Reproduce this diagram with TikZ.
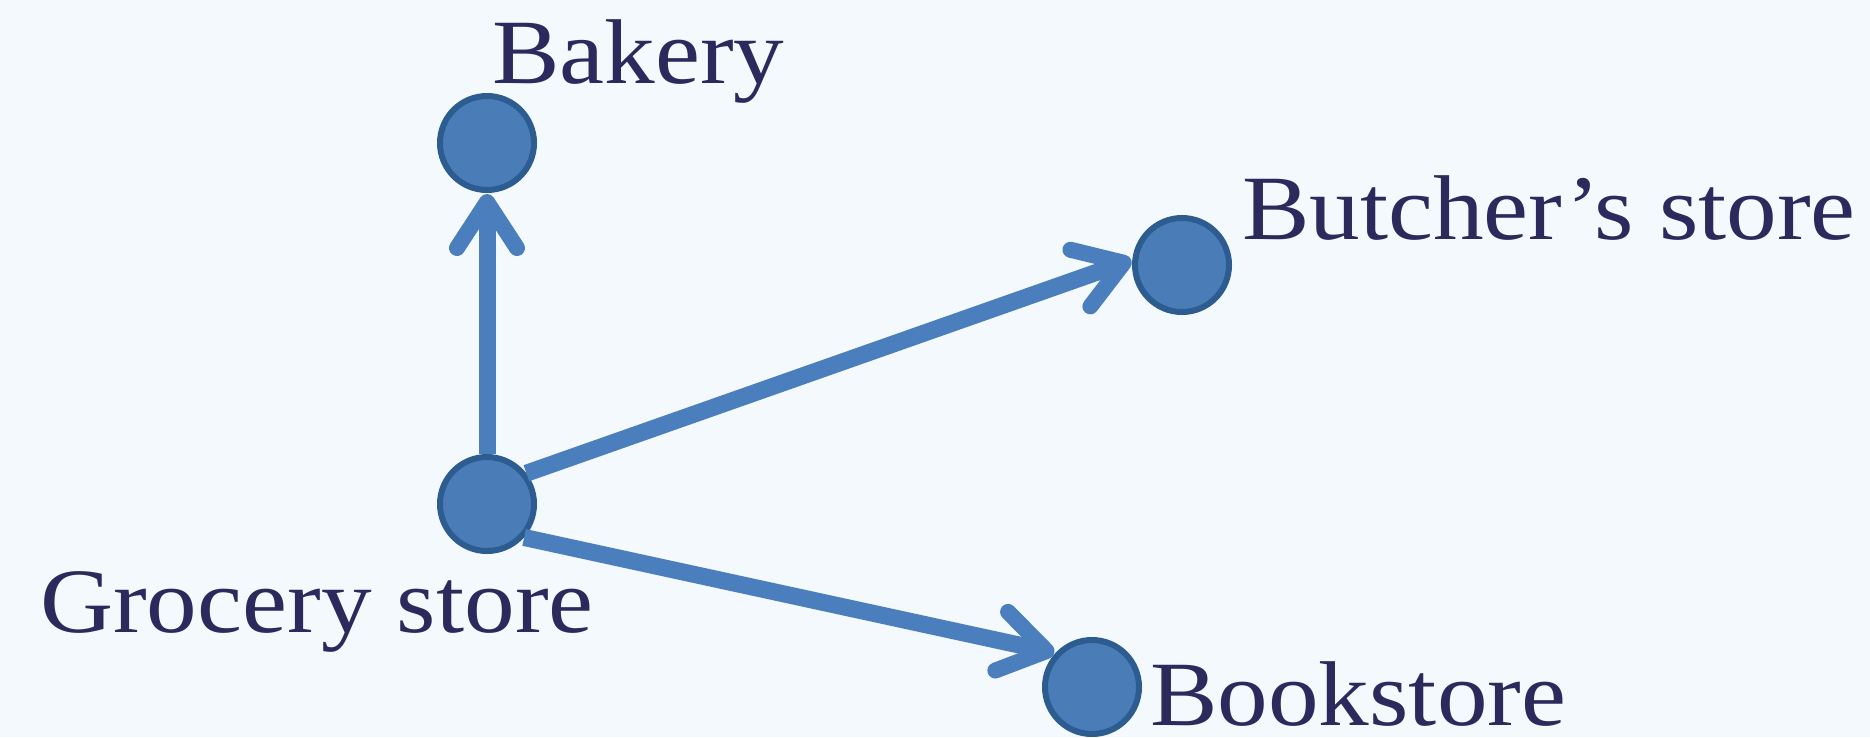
\documentclass[tikz,border=0pt]{standalone}
\usepackage{fontspec}
\setmainfont{Liberation Serif}[FakeStretch=1.10]
\usetikzlibrary{arrows.meta}
\definecolor{bg}{HTML}{F3F9FC}
\definecolor{nodefill}{HTML}{4A7DB8}
\definecolor{nodeedge}{HTML}{2D5C90}
\definecolor{arrcol}{HTML}{4A7EBC}
\definecolor{txt}{HTML}{2A2A5C}
\tikzset{
  place/.style={circle, fill=nodefill, draw=nodeedge, line width=6pt, minimum size=94pt, inner sep=0pt},
  lbl/.style={anchor=base west, text=txt, font=\fontsize{92}{110}\selectfont, inner sep=0pt},
  arr/.style={draw=arrcol, line width=17pt, -{Straight Barb[length=46pt, width=60pt, line width=16pt, round]}, shorten >=1pt}
}
\begin{document}
\begin{tikzpicture}[x=1pt, y=-1pt]
\fill[bg] (0,0) rectangle (1870,737);
\useasboundingbox (0,0) rectangle (1870,737);
\node[place] (g) at (487,504) {};
\node[place] (b) at (487,143) {};
\node[place] (u) at (1182,265) {};
\node[place] (k) at (1092,687) {};
\node[lbl] (lb) at (492,83) {Bakery};
\node[lbl] (lg) at (40,632) {Grocery store};
\node[lbl] (lu) at (1242,239) {Butcher’s store};
\node[lbl] (lk) at (1150,725) {Bookstore};
\draw[arr] (g.north) -- (b.south);
\draw[arr] (g.38) -- (u.174);
\draw[arr] (g.-42) -- (k.137);
\end{tikzpicture}
\end{document}
